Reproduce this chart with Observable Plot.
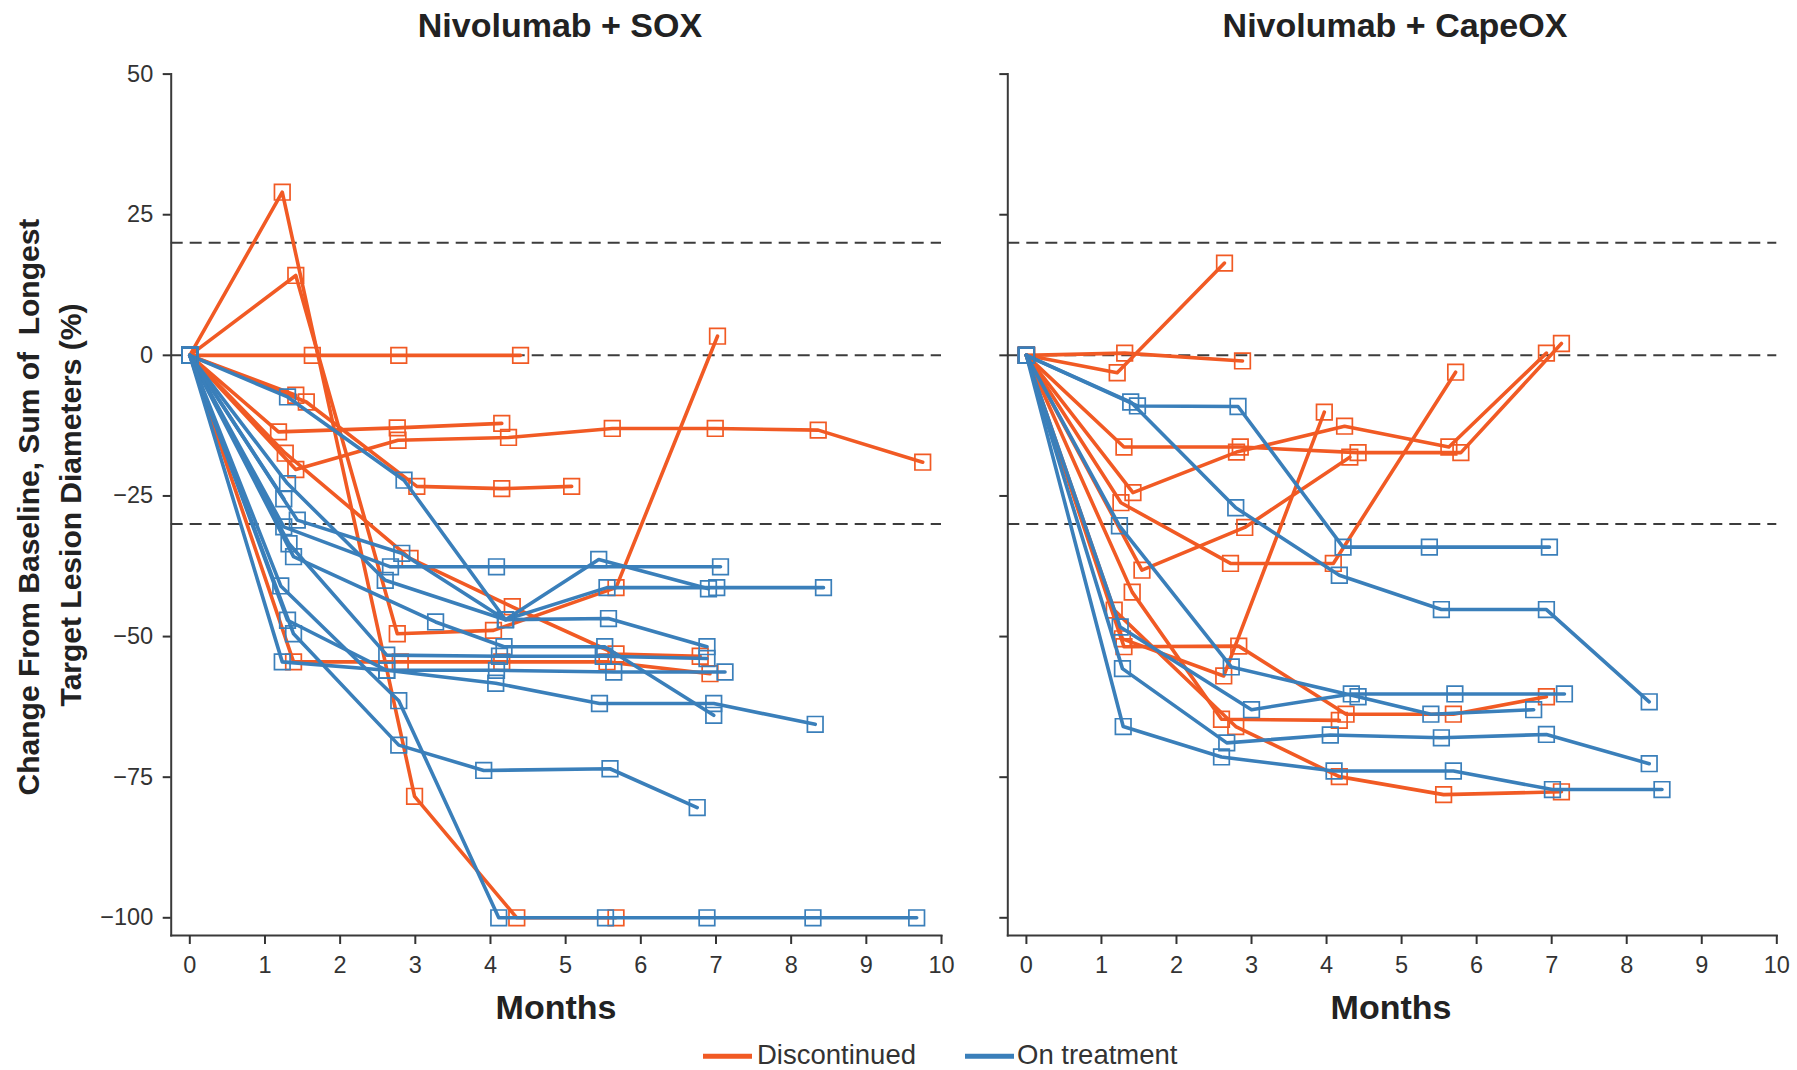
<!DOCTYPE html>
<html>
<head>
<meta charset="utf-8">
<script src="https://cdn.jsdelivr.net/npm/d3@7"></script>
<script src="https://cdn.jsdelivr.net/npm/@observablehq/plot@0.6"></script>
<style>
  body { margin: 0; background: #fff; font-family: "Liberation Sans", Arial, sans-serif; }
  #page { position: relative; width: 1797px; height: 1070px; overflow: hidden; background: #fff; }
  .abs { position: absolute; white-space: nowrap; line-height: 1.25; color: #222; }
  .title { font-weight: bold; font-size: 34px; transform: translate(-50%, -50%); }
  .ylab { font-weight: bold; font-size: 30px; transform: translate(-50%, -50%) rotate(-90deg); }
  .legtext { font-size: 27.5px; line-height: 1; transform: translateY(-50%); color: #333; }
  .swatch { height: 4.5px; width: 49px; transform: translateY(-50%); }
</style>
</head>
<body>
<div id="page"></div>
<script>
// ---------- data (months, % change from baseline) ----------
const panelTitles = ["Nivolumab + SOX", "Nivolumab + CapeOX"];
const xAxisTitle = "Months";
const yAxisTitleLines = ["Change From Baseline, Sum of\u00a0 Longest", "Target Lesion Diameters (%)"];
const legendLabels = ["Discontinued", "On treatment"];
const xTicks = [0, 1, 2, 3, 4, 5, 6, 7, 8, 9, 10];
const yTicks = [50, 25, 0, -25, -50, -75, -100];
const thresholdLines = [20, 0, -30];

const soxDiscontinued = [
  [[0,0],[1.23,29],[2.99,-78.4],[4.35,-100],[5.67,-100]],
  [[0,0],[1.41,14.2],[2.76,-49.5],[4.04,-48.9],[5.67,-41.3],[7.02,3.4]],
  [[0,0],[1.63,0],[2.78,0],[4.4,0]],
  [[0,0],[1.18,-13.6],[2.76,-12.9],[4.15,-12.1]],
  [[0,0],[1.41,-20.3],[2.77,-15.1],[4.24,-14.6],[5.62,-13],[6.99,-13],[8.36,-13.3],[9.75,-19]],
  [[0,0],[1.55,-8.3],[3.02,-23.3],[4.15,-23.7],[5.08,-23.3]],
  [[0,0],[1.27,-17.4],[2.93,-36.1],[4.29,-44.7],[5.67,-53.1],[6.79,-53.5]],
  [[0,0],[1.38,-54.5],[2.8,-54.5],[4.15,-54.5],[5.55,-54.5],[6.92,-56.6]],
  [[0,0],[1.41,-7.1]]
];
const soxOnTreatment = [
  [[0,0],[1.3,-7.4],[2.85,-22.2],[4.2,-47],[5.44,-36.3],[6.9,-41.5]],
  [[0,0],[1.43,-29.3],[2.82,-35.2],[4.2,-47],[5.55,-41.3],[7.01,-41.3],[8.43,-41.3]],
  [[0,0],[1.3,-22.8],[2.6,-40],[4.2,-47],[5.57,-46.8],[6.88,-51.8]],
  [[0,0],[1.38,-35.8],[3.27,-47.4],[4.18,-51.8],[5.52,-51.8],[6.97,-64]],
  [[0,0],[1.25,-30.5],[2.67,-37.6],[4.08,-37.6],[7.06,-37.6]],
  [[0,0],[1.32,-33.5],[2.62,-53.3],[4.12,-53.5],[5.5,-53.5],[6.88,-53.9]],
  [[0,0],[1.23,-54.5],[2.62,-56],[4.08,-56],[5.64,-56.3],[7.12,-56.3]],
  [[0,0],[1.3,-47.1],[2.62,-56],[4.07,-58.3],[5.45,-61.9],[6.97,-61.9],[8.32,-65.6]],
  [[0,0],[1.38,-49.5],[2.78,-69.3],[3.91,-73.8],[5.59,-73.5],[6.75,-80.4]],
  [[0,0],[1.21,-41],[2.78,-61.4],[4.11,-100],[5.53,-100],[6.88,-100],[8.29,-100],[9.67,-100]],
  [[0,0],[1.25,-25.5]]
];
const capeoxDiscontinued = [
  [[0,0],[1.21,-3.1],[2.64,16.4]],
  [[0,0],[1.31,0.4],[2.88,-1.0]],
  [[0,0],[1.3,-16.3],[2.85,-16.3],[4.42,-17.3],[5.79,-17.3],[7.13,2.1]],
  [[0,0],[1.42,-24.4],[2.8,-17.2],[4.24,-12.6],[5.63,-16.3],[6.93,0.4]],
  [[0,0],[1.26,-26.2],[2.72,-37],[4.09,-37],[5.72,-3]],
  [[0,0],[1.54,-38.2],[2.91,-30.6],[4.31,-18.1]],
  [[0,0],[1.28,-50.4],[2.63,-57],[3.97,-10.1]],
  [[0,0],[1.3,-51.8],[2.83,-51.7],[4.26,-63.8],[5.69,-63.8],[6.93,-60.7]],
  [[0,0],[1.41,-42.1],[2.6,-64.7],[4.17,-64.9]],
  [[0,0],[1.17,-45.3],[2.79,-66],[4.17,-74.9],[5.56,-78.1],[7.13,-77.6]]
];
const capeoxOnTreatment = [
  [[0,0],[1.48,-9],[2.82,-9.1],[4.22,-34.1],[5.37,-34.1],[6.97,-34.1]],
  [[0,0],[1.39,-8.3],[2.79,-27.1],[4.17,-39.1],[5.53,-45.2],[6.93,-45.2],[8.3,-61.6]],
  [[0,0],[1.24,-30.3],[2.73,-55.4],[4.42,-60.7],[5.39,-63.8],[6.76,-63]],
  [[0,0],[1.25,-48.3],[3.0,-63],[4.33,-60.2],[5.71,-60.2],[7.17,-60.2]],
  [[0,0],[1.28,-55.7],[2.67,-68.9],[4.05,-67.5],[5.53,-68],[6.93,-67.4],[8.3,-72.6]],
  [[0,0],[1.29,-66],[2.6,-71.4],[4.1,-73.9],[5.69,-73.9],[7.01,-77.2],[8.47,-77.2]]
];

// ---------- styling ----------
const ORANGE = "#f15a24";
const BLUE = "#3a7fba";
const FONT = "'Liberation Sans', Arial, sans-serif";

function toRows(lines, key) {
  return lines.flatMap((pts, i) => pts.map(([m, c]) => ({id: key + i, month: m, change: c})));
}

function panel({disc, onT, width, marginLeft, marginRight, yLabels}) {
  const dRows = toRows(disc, "d");
  const oRows = toRows(onT, "o");
  return Plot.plot({
    width, height: 1000,
    marginTop: 73.6, marginBottom: 65, marginLeft, marginRight,
    style: {background: "transparent", fontFamily: FONT, fontSize: "23.5px", overflow: "visible"},
    x: {domain: [0, 10], insetLeft: 18.6},
    y: {domain: [-100, 50], insetBottom: 17.7},
    marks: [
      Plot.ruleY(thresholdLines, {stroke: "#3c3c3c", strokeWidth: 2, strokeDasharray: "12,7"}),
      Plot.frame({anchor: "left", stroke: "#3a3a3a", strokeWidth: 2}),
      Plot.frame({anchor: "bottom", stroke: "#3a3a3a", strokeWidth: 2}),
      Plot.axisY(yTicks, {tickSize: 8, tickPadding: 10, strokeWidth: 2, color: "#333", fontSize: 23.5, label: null,
        tickFormat: yLabels ? d3.format("d") : () => ""}),
      Plot.axisX(xTicks, {tickSize: 9, tickPadding: 12, strokeWidth: 2, color: "#333", fontSize: 23.5, label: null}),
      Plot.line(dRows, {x: "month", y: "change", z: "id", stroke: ORANGE, strokeWidth: 3.6}),
      Plot.dot(dRows, {x: "month", y: "change", symbol: "square", r: 8.8, stroke: ORANGE, strokeWidth: 1.7, fill: "none"}),
      Plot.line(oRows, {x: "month", y: "change", z: "id", stroke: BLUE, strokeWidth: 3.6}),
      Plot.dot(oRows, {x: "month", y: "change", symbol: "square", r: 8.8, stroke: BLUE, strokeWidth: 1.7, fill: "none"})
    ]
  });
}

const page = document.getElementById("page");

const left = panel({disc: soxDiscontinued, onT: soxOnTreatment, width: 960, marginLeft: 170.7, marginRight: 19, yLabels: true});
left.style.position = "absolute"; left.style.left = "0px"; left.style.top = "0px";
page.appendChild(left);

const right = panel({disc: capeoxDiscontinued, onT: capeoxOnTreatment, width: 837, marginLeft: 47.3, marginRight: 20.7, yLabels: false});
right.style.position = "absolute"; right.style.left = "960px"; right.style.top = "0px";
page.appendChild(right);

function addText(text, cls, x, y) {
  const el = document.createElement("div");
  el.className = "abs " + cls;
  el.textContent = text;
  el.style.left = x + "px"; el.style.top = y + "px";
  page.appendChild(el);
  return el;
}

addText(panelTitles[0], "title", 560, 25);
addText(panelTitles[1], "title", 1395, 25);
addText(xAxisTitle, "title", 556, 1007);
addText(xAxisTitle, "title", 1391, 1007);
addText(yAxisTitleLines[0], "ylab", 29, 507);
addText(yAxisTitleLines[1], "ylab", 71, 505);

// legend
function addSwatch(color, x, y) {
  const el = document.createElement("div");
  el.className = "abs swatch";
  el.style.background = color;
  el.style.left = x + "px"; el.style.top = y + "px";
  page.appendChild(el);
}
addSwatch(ORANGE, 703, 1056);
addText(legendLabels[0], "legtext", 757, 1055);
addSwatch(BLUE, 965, 1056);
addText(legendLabels[1], "legtext", 1017, 1055);
</script>
</body>
</html>
